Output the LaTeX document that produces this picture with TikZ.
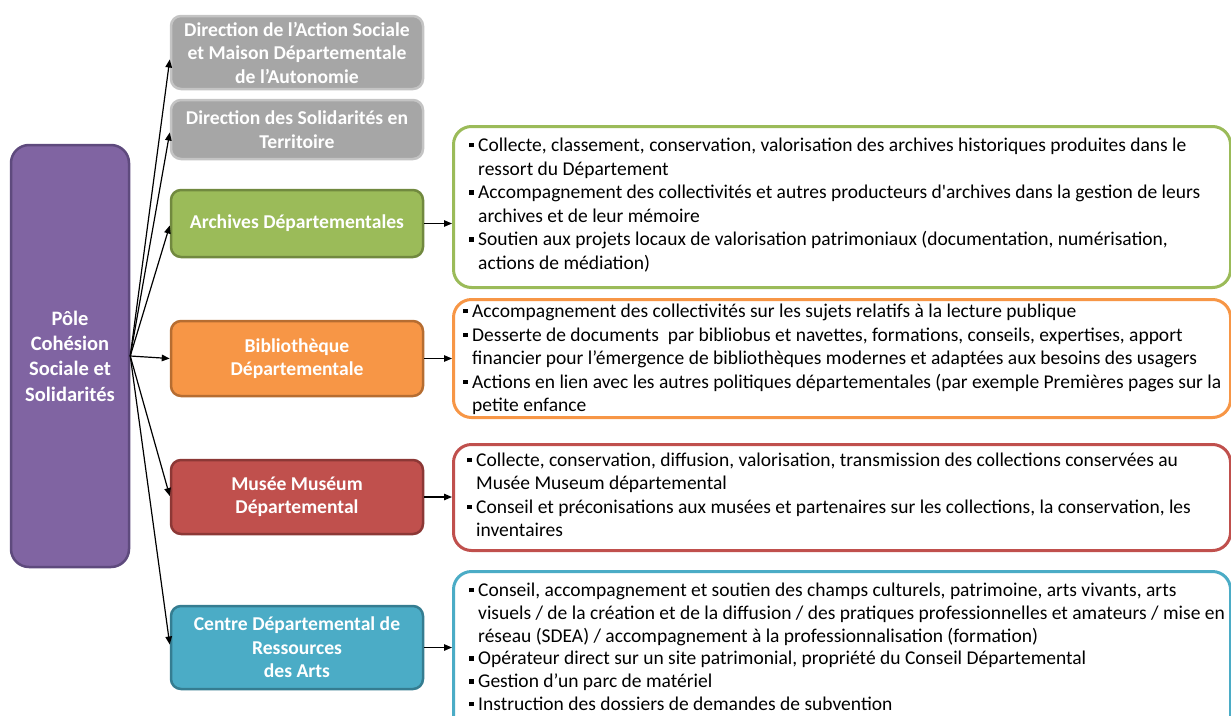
\documentclass[tikz,border=0pt]{standalone}
\usepackage{fontspec}
\setmainfont{Carlito}
\usetikzlibrary{arrows.meta}
\definecolor{purpF}{HTML}{8064A2}\definecolor{purpD}{HTML}{5E4A7D}
\definecolor{grayF}{HTML}{A6A6A6}\definecolor{grayD}{HTML}{C4C4C4}
\definecolor{greenF}{HTML}{9BBB59}\definecolor{greenD}{HTML}{71893F}
\definecolor{orangeF}{HTML}{F79646}\definecolor{orangeD}{HTML}{B66D31}
\definecolor{redF}{HTML}{C0504D}\definecolor{redD}{HTML}{8C3836}
\definecolor{blueF}{HTML}{4BACC6}\definecolor{blueD}{HTML}{357D91}
\newcommand\bul{\makebox[9pt][l]{\rule[4.2pt]{4.3pt}{4.3pt}}}
\newcommand\ind{\hspace*{9pt}}
\begin{document}
\begin{tikzpicture}[x=1pt,y=-1pt,
  unit/.style={draw, line width=2.5pt, rounded corners=10pt, text=white,
    font=\fontsize{19.6}{23.5}\selectfont\bfseries, align=center,
    minimum width=252pt, inner sep=0pt},
  pole/.style={draw=purpD, fill=purpF, line width=2.5pt, rounded corners=18pt, text=white,
    font=\fontsize{20.5}{25.3}\selectfont\bfseries, align=center,
    minimum width=118pt, minimum height=422pt, inner sep=0pt},
  detail/.style={draw, fill=white, line width=3pt, rounded corners=18pt,
    minimum width=777pt, anchor=north west, inner sep=0pt},
  items/.style={anchor=base west, align=left, inner sep=0pt},
  link/.style={line width=1.2pt, -{Triangle[length=8pt,width=6.5pt]}}]
\useasboundingbox (0,0) rectangle (1231,715);
\clip (0,0) rectangle (1231,715);

\node[pole] (p) at (70,356) {Pôle\\Cohésion\\Sociale et\\Solidarités};

\node[unit, draw=grayD, fill=grayF, minimum height=73pt] (g1) at (297,52.5)
  {Direction de l’Action Sociale\\et Maison Départementale\\de l’Autonomie};
\node[unit, draw=grayD, fill=grayF, minimum height=59pt] (g2) at (297,129.5)
  {Direction des Solidarités en\\Territoire};
\node[unit, draw=greenD, fill=greenF, minimum height=67pt] (ar) at (297,223.5)
  {Archives Départementales};
\node[unit, draw=orangeD, fill=orangeF, minimum height=75pt] (bi) at (297,358.5)
  {Bibliothèque\\Départementale};
\node[unit, draw=redD, fill=redF, minimum height=74pt] (mu) at (297,497)
  {Musée Muséum\\Départemental};
\node[unit, draw=blueD, fill=blueF, minimum height=83pt] (ce) at (297,647.5)
  {Centre Départemental de\\Ressources\\des Arts};

\node[detail, draw=greenF, minimum height=161pt] (ard) at (452,125) {};
\node[detail, draw=orangeF, minimum height=118pt] (bid) at (452,298) {};
\node[detail, draw=redF, minimum height=106pt] (mud) at (452,443) {};
\node[detail, draw=blueF, minimum height=170pt] (ced) at (452,570) {};

\node[items, font=\fontsize{19.5}{23.6}\selectfont] (art) at (469,269.5) {\bul Collecte, classement, conservation, valorisation des archives historiques produites dans le\\
\ind ressort du Département\\
\bul Accompagnement des collectivités et autres producteurs d\textquotesingle archives dans la gestion de leurs\\
\ind archives et de leur mémoire\\
\bul Soutien aux projets locaux de valorisation patrimoniaux (documentation, numérisation,\\
\ind actions de médiation)};

\node[items, font=\fontsize{19.5}{23.5}\selectfont] (bit) at (463,411.5) {\bul Accompagnement des collectivités sur les sujets relatifs à la lecture publique\\
\bul Desserte de documents\ \ par bibliobus et navettes, formations, conseils, expertises, apport\\
\ind financier pour l’émergence de bibliothèques modernes et adaptées aux besoins des usagers\\
\bul Actions en lien avec les autres politiques départementales (par exemple Premières pages sur la\\
\ind petite enfance};

\node[items, font=\fontsize{19.5}{23.3}\selectfont] (mut) at (467,536.5) {\bul Collecte, conservation, diffusion, valorisation, transmission des collections conservées au\\
\ind Musée Museum départemental\\
\bul Conseil et préconisations aux musées et partenaires sur les collections, la conservation, les\\
\ind inventaires};

\node[items, font=\fontsize{19.5}{22.8}\selectfont] (cet) at (469,710.5) {\bul Conseil, accompagnement et soutien des champs culturels, patrimoine, arts vivants, arts\\
\ind visuels / de la création et de la diffusion / des pratiques professionnelles et amateurs / mise en\\
\ind réseau (SDEA) / accompagnement à la professionnalisation (formation)\\
\bul Opérateur direct sur un site patrimonial, propriété du Conseil Départemental\\
\bul Gestion d’un parc de matériel\\
\bul Instruction des dossiers de demandes de subvention};

\draw[link] (p.east) -- ([yshift=-7pt]g1.west);
\draw[link] (p.east) -- ([yshift=-3pt]g2.west);
\draw[link] (p.east) -- ([yshift=-2pt]ar.west);
\draw[link] (p.east) -- (bi.west);
\draw[link] (p.east) -- ([yshift=1pt]mu.west);
\draw[link] (p.east) -- ([yshift=3pt]ce.west);

\draw[link] (ar.east) -- (ar.east -| ard.west);
\draw[link] (bi.east) -- (bi.east -| bid.west);
\draw[link] (mu.east) -- (mu.east -| mud.west);
\draw[link] (ce.east) -- (ce.east -| ced.west);
\end{tikzpicture}
\end{document}
